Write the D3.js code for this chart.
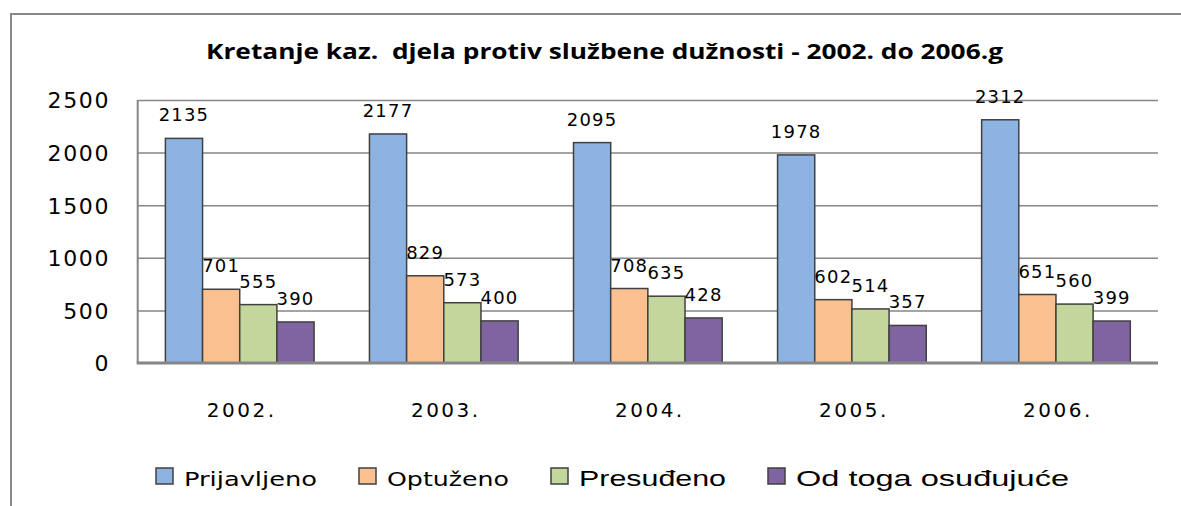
<html>
    <head>
        <meta charset="utf-8">
        <title>Kretanje kaz. djela</title>
        <script type="text/javascript" src="https://d3js.org/d3.v7.min.js"></script>
        <style>
            body { margin: 0; background: #ffffff; }
        </style>
    </head>

    <body>
        <div id="my-viz"></div>

        <script type="text/javascript">
            // data
            var years = ["2002.", "2003.", "2004.", "2005.", "2006."];
            var seriesNames = ["Prijavljeno", "Optuženo", "Presuđeno", "Od toga osuđujuće"];
            var prijavljeno = [2135, 2177, 2095, 1978, 2312];
            var optuzeno = [701, 829, 708, 602, 651];
            var presudeno = [555, 573, 635, 514, 560];
            var osudujuce = [390, 400, 428, 357, 399];
            var yTicks = [0, 500, 1000, 1500, 2000, 2500];
            var title = "Kretanje kaz.  djela protiv službene dužnosti - 2002. do 2006.g";

            var colors = ["#8db3e2", "#fac090", "#c3d69b", "#8064a2"];
            var allSeries = [prijavljeno, optuzeno, presudeno, osudujuce];

            // Width and height
            var w = 1181;
            var h = 506;
            var plot = { left: 137.7, right: 1158, top: 100, bottom: 363 };

            var svg = d3.select("#my-viz")
                        .append("svg")
                        .attr("width", w)
                        .attr("height", h);

            // outer frame (only top and left edges are visible)
            svg.append("path")
                .attr("d", "M11,506 V14 H1181")
                .attr("fill", "none")
                .attr("stroke", "#898989")
                .attr("stroke-width", 2);

            var x0 = d3.scaleBand()
                .domain(years)
                .range([plot.left, plot.right])
                .paddingInner(0)
                .paddingOuter(0);

            var x1 = d3.scaleBand()
                .domain(seriesNames)
                .range([0, x0.bandwidth()])
                .paddingInner(0)
                .paddingOuter(0.745);

            var y = d3.scaleLinear()
                .domain([0, 2500])
                .range([plot.bottom, plot.top]);

            // gridlines
            var grid = svg.append("g")
                .attr("transform", "translate(" + plot.left + ",0)")
                .call(d3.axisLeft(y).tickValues(yTicks.slice(1)).tickSize(-(plot.right - plot.left)).tickFormat(""));
            grid.select(".domain").remove();
            grid.selectAll("line").attr("stroke", "#868686").attr("stroke-width", 1.5);

            // y labels
            var yAxis = svg.append("g")
                .attr("transform", "translate(110,0)")
                .call(d3.axisLeft(y).tickValues(yTicks).tickSize(0).tickPadding(0).tickFormat(d3.format("d")));
            yAxis.select(".domain").remove();
            yAxis.selectAll("text")
                .attr("font-family", "DejaVu Sans")
                .attr("font-size", 22)
                .attr("letter-spacing", 1.6)
                .attr("fill", "#000")
                .attr("dy", "0.36em");

            // axis lines
            svg.append("line")
                .attr("x1", plot.left).attr("x2", plot.left)
                .attr("y1", plot.top).attr("y2", plot.bottom)
                .attr("stroke", "#868686").attr("stroke-width", 2);

            // bars
            var rows = [];
            years.forEach(function(yr, i) {
                seriesNames.forEach(function(s, j) {
                    rows.push({ year: yr, series: s, value: allSeries[j][i], color: colors[j] });
                });
            });

            svg.selectAll("rect.bar")
                .data(rows)
                .enter()
                .append("rect")
                .attr("class", "bar")
                .attr("x", function(d) { return x0(d.year) + x1(d.series); })
                .attr("y", function(d) { return y(d.value); })
                .attr("width", x1.bandwidth())
                .attr("height", function(d) { return y(0) - y(d.value); })
                .attr("fill", function(d) { return d.color; })
                .attr("stroke", "#404040")
                .attr("stroke-width", 1.5);

            svg.append("line")
                .attr("x1", plot.left - 1).attr("x2", plot.right)
                .attr("y1", plot.bottom).attr("y2", plot.bottom)
                .attr("stroke", "#868686").attr("stroke-width", 3);

            // value labels
            svg.selectAll("text.val")
                .data(rows)
                .enter()
                .append("text")
                .attr("class", "val")
                .attr("x", function(d) { return x0(d.year) + x1(d.series) + x1.bandwidth() / 2; })
                .attr("y", function(d) { return y(d.value) - 17; })
                .attr("text-anchor", "middle")
                .attr("font-family", "DejaVu Sans")
                .attr("font-size", 18)
                .attr("letter-spacing", 1.2)
                .attr("fill", "#000")
                .text(function(d) { return d.value; });

            // category labels
            svg.selectAll("text.cat")
                .data(years)
                .enter()
                .append("text")
                .attr("class", "cat")
                .attr("x", function(d) { return x0(d) + x0.bandwidth() / 2 + 2; })
                .attr("y", 417)
                .attr("text-anchor", "middle")
                .attr("font-family", "DejaVu Sans")
                .attr("font-size", 20)
                .attr("letter-spacing", 2.5)
                .attr("fill", "#000")
                .text(function(d) { return d; });

            // title
            svg.append("text")
                .attr("x", 206)
                .attr("y", 59)
                .attr("font-family", "Open Sans")
                .attr("font-weight", "bold")
                .attr("font-size", 21)
                .attr("textLength", 797)
                .attr("lengthAdjust", "spacingAndGlyphs")
                .attr("xml:space", "preserve")
                .attr("fill", "#000")
                .text(title);

            // legend
            var legendWidths = [133, 122, 147, 273];
            var legendFonts = ["DejaVu Sans", "DejaVu Sans", "Liberation Sans", "Liberation Sans"];
            var lx = 156;
            seriesNames.forEach(function(s, j) {
                var g = svg.append("g").attr("transform", "translate(" + lx + ",0)");
                g.append("rect")
                    .attr("x", 0).attr("y", 468)
                    .attr("width", 17).attr("height", 16)
                    .attr("fill", colors[j])
                    .attr("stroke", "#404040")
                    .attr("stroke-width", 1.5);
                g.append("text")
                    .attr("x", 28)
                    .attr("y", 486)
                    .attr("font-family", legendFonts[j])
                    .attr("font-size", j < 2 ? 20 : 22)
                    .attr("textLength", legendWidths[j])
                    .attr("lengthAdjust", "spacingAndGlyphs")
                    .attr("fill", "#000")
                    .text(s);
                lx += 28 + legendWidths[j] + 42;
            });
        </script>
    </body>
</html>
